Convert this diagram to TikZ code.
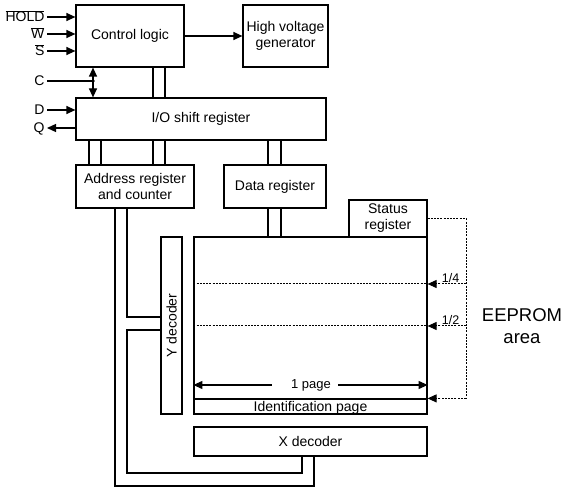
\documentclass[tikz,border=0pt]{standalone}
\usepackage{fontspec}
\setmainfont{Liberation Sans}
\usetikzlibrary{arrows.meta}

\begin{document}
\begin{tikzpicture}[x=1pt, y=-1pt, line width=1.2pt,
        font=\fontsize{14}{16}\selectfont,
        box/.style={draw, rectangle, inner sep=0pt, align=center},
        pinlabel/.style={anchor=east, inner sep=2pt, text height=10pt, text depth=0pt},
        tip/.style={-{Triangle[length=9pt, width=8pt]}},
        twotips/.style={{Triangle[length=9pt, width=8pt]}-{Triangle[length=9pt, width=8pt]}},
        dots/.style={dash pattern=on 2pt off 1.2pt, line width=1pt}]
        \useasboundingbox (0,0) rectangle (566,492);

        \node [box, minimum width=108, minimum height=62] (ctrl) at (130,36) {Control logic};
        \node [box, minimum width=85, minimum height=62] (hvg) at (285.5,36) {High voltage\\generator};
        \node [box, minimum width=250, minimum height=42] (io) at (201,119) {I/O shift register};
        \node [box, minimum width=118, minimum height=43] (addr) at (135,186.5) {Address register\\and counter};
        \node [box, minimum width=102, minimum height=43] (data) at (275,186.5) {Data register};
        \node [box, minimum width=78, minimum height=37] (status) at (388,218.5) {Status\\register};
        \node [box, minimum width=233, minimum height=177] (mem) at (310.5,325.5) {};
        \node [box, minimum width=233, minimum height=15, text depth=0pt] (idp) at (310.5,406.5) {Identification page};
        \node [box, minimum width=21, minimum height=177] (ydec) at (171.5,325.5) {};
        \node [rotate=90] (ydect) at (ydec) {Y decoder};
        \node [box, minimum width=233, minimum height=29] (xdec) at (310.5,441.5) {X decoder};
        \node [align=center, font=\fontsize{18.5}{22}\selectfont] (area) at (522,326) {EEPROM\\area};

        \node [pinlabel] (hold) at (47,17) {$\overline{\mbox{HOLD}}$};
        \node [pinlabel] (w) at (47,34) {$\overline{\mbox{W}}$};
        \node [pinlabel] (s) at (47,51) {$\overline{\mbox{S}}$};
        \node [pinlabel] (c) at (47,81) {C};
        \node [pinlabel] (d) at (47,110) {D};
        \node [pinlabel] (q) at (47,128) {Q};

        \draw[tip] (hold.east) -- (hold.east -| ctrl.west);
        \draw[tip] (w.east) -- (w.east -| ctrl.west);
        \draw[tip] (s.east) -- (s.east -| ctrl.west);
        \draw[tip] (d.east) -- (d.east -| io.west);
        \draw[tip] (q.east -| io.west) -- (q.east);
        \draw[tip] (ctrl.east) -- (hvg.west);

        \coordinate (cj) at (93,81);
        \draw (c.east) -- (cj);
        \fill (cj) circle (1.8);
        \draw[twotips] (ctrl.south -| cj) -- (io.north -| cj);

        \foreach \bx/\tn/\bn in {153/ctrl/io, 165/ctrl/io, 89/io/addr, 101/io/addr,
                153/io/addr, 165/io/addr, 268/io/data, 281/io/data, 268/data/mem, 281/data/mem} {
            \coordinate (bx) at (\bx,0);
            \draw (\tn.south -| bx) -- (\bn.north -| bx);
        }

        \coordinate (ba) at (115,0);
        \coordinate (bb) at (127,0);
        \coordinate (yt) at (0,317);
        \coordinate (yb) at (0,330);
        \coordinate (xa) at (314,486);
        \coordinate (xb) at (302,473);
        \draw (addr.south -| ba) -- (ba |- xa) -- (xa) -- (xa |- xdec.south);
        \draw (addr.south -| bb) -- (bb |- yt) -- (yt -| ydec.west);
        \draw (ydec.west |- yb) -- (bb |- yb) -- (bb |- xb) -- (xb) -- (xb |- xdec.south);

        \coordinate (qtop) at (466,218.5);
        \coordinate (qa) at (466,284);
        \coordinate (qb) at (466,326);
        \draw[dots] (status.east) -- (qtop) -- (qtop |- idp.north);
        \draw[dots] (qa -| mem.west) -- (qa -| mem.east);
        \draw[dots] (qb -| mem.west) -- (qb -| mem.east);
        \draw[dots, tip] (qa) -- (qa -| mem.east)
            node [pos=0.4, above, inner sep=1pt, font=\fontsize{12.5}{14}\selectfont] {1/4};
        \draw[dots, tip] (qb) -- (qb -| mem.east)
            node [pos=0.4, above, inner sep=1pt, font=\fontsize{12.5}{14}\selectfont] {1/2};
        \draw[dots, tip] (qtop |- idp.north) -- (idp.north east);

        \node [inner sep=0pt, font=\fontsize{13}{15}\selectfont] (pg) at (311,385) {1 page};
        \draw[tip] ([xshift=-19]pg.west) -- (pg.west -| mem.west);
        \draw[tip] ([xshift=7]pg.east) -- (pg.east -| mem.east);
\end{tikzpicture}
\end{document}
